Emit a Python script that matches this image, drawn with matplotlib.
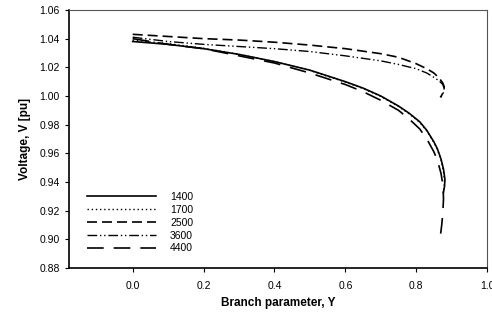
import numpy as np
from matplotlib import pyplot as plt

plt.rcParams['font.family'] = ['Liberation Sans', 'DejaVu Sans']

# (branch parameter Y, voltage V) for each case
y_1400 = [0.0, 0.1, 0.2, 0.3, 0.4, 0.5, 0.6, 0.65, 0.7, 0.75, 0.78, 0.81, 0.83, 0.85, 0.86,
          0.87, 0.877, 0.881, 0.880, 0.877]
v_1400 = [1.038, 1.036, 1.033, 1.029, 1.024, 1.018, 1.010, 1.0055, 1.000, 0.993, 0.988, 0.982,
          0.976, 0.968, 0.963, 0.956, 0.949, 0.942, 0.937, 0.933]

y_1700 = [0.0, 0.1, 0.2, 0.3, 0.4, 0.5, 0.6, 0.65, 0.7, 0.75, 0.78, 0.81, 0.83, 0.85, 0.86,
          0.87, 0.876, 0.880, 0.879, 0.876]
v_1700 = [1.039, 1.0365, 1.0333, 1.029, 1.024, 1.0178, 1.0097, 1.0052, 0.9997, 0.9927, 0.9876,
          0.9816, 0.9756, 0.9676, 0.9626, 0.9556, 0.9486, 0.9416, 0.9366, 0.932]

y_2500 = [0.0, 0.1, 0.2, 0.3, 0.4, 0.5, 0.6, 0.7, 0.75, 0.8, 0.83, 0.85, 0.865, 0.875,
          0.879, 0.877, 0.872, 0.868]
v_2500 = [1.043, 1.0415, 1.040, 1.039, 1.0375, 1.0355, 1.033, 1.0295, 1.027, 1.0225, 1.019,
          1.016, 1.0125, 1.009, 1.0065, 1.003, 1.0005, 0.999]

y_3600 = [0.0, 0.1, 0.2, 0.3, 0.4, 0.5, 0.6, 0.7, 0.75, 0.8, 0.83, 0.85, 0.865, 0.875,
          0.879, 0.877, 0.872, 0.868]
v_3600 = [1.041, 1.038, 1.036, 1.0345, 1.033, 1.031, 1.028, 1.0245, 1.022, 1.019, 1.016,
          1.013, 1.0105, 1.008, 1.0055, 1.0025, 1.000, 0.9985]

y_4400 = [0.0, 0.1, 0.2, 0.3, 0.4, 0.5, 0.6, 0.65, 0.7, 0.75, 0.78, 0.81, 0.83, 0.85, 0.86,
          0.87, 0.876, 0.877, 0.875, 0.872, 0.869]
v_4400 = [1.040, 1.036, 1.033, 1.028, 1.023, 1.016, 1.008, 1.003, 0.997, 0.990, 0.984, 0.977,
          0.970, 0.961, 0.955, 0.946, 0.937, 0.928, 0.918, 0.910, 0.904]

labels = ['1400', '1700', '2500', '3600', '4400']

fig = plt.figure(figsize=(4.92, 3.21), dpi=100)
ax = fig.add_axes([0.140, 0.165, 0.850, 0.804])

ax.plot(y_1400, v_1400, color='black', lw=1.2, ls='-', label=labels[0])
ax.plot(y_1700, v_1700, color='black', lw=1.0, ls=(0, (1, 2)), label=labels[1])
ax.plot(y_2500, v_2500, color='black', lw=1.2, ls=(0, (6, 3)), label=labels[2])
ax.plot(y_3600, v_3600, color='black', lw=1.0, ls=(0, (7, 2, 1, 2, 1, 2)), label=labels[3])
ax.plot(y_4400, v_4400, color='black', lw=1.2, ls=(0, (10, 6)), label=labels[4])

ax.set_xlim(-0.18, 1.0)
ax.set_ylim(0.88, 1.06)
ax.set_xticks([0.0, 0.2, 0.4, 0.6, 0.8, 1.0])
ax.set_xticklabels(['0.0', '0.2', '0.4', '0.6', '0.8', '1.0'])
ax.set_yticks(np.arange(0.88, 1.061, 0.02))
ax.set_yticklabels([f'{v:.2f}' for v in np.arange(0.88, 1.061, 0.02)])
ax.tick_params(labelsize=7.5, length=3, width=0.8)
ax.tick_params(axis='x', pad=6)

for side in ['left', 'bottom']:
    ax.spines[side].set_linewidth(1.2)
for side in ['top', 'right']:
    ax.spines[side].set_linewidth(0.8)
    ax.spines[side].set_color('#555555')

ax.set_xlabel('Branch parameter, Y', fontsize=8.5, fontweight='bold', labelpad=5)
ax.set_ylabel('Voltage, V [pu]', fontsize=8.5, fontweight='bold', labelpad=6)

ax.legend(loc='lower left', bbox_to_anchor=(0.02, 0.02), frameon=False,
          fontsize=7.5, handlelength=6.7, handletextpad=1.3, labelspacing=0.28)

fig.savefig('out.png', dpi=100)
